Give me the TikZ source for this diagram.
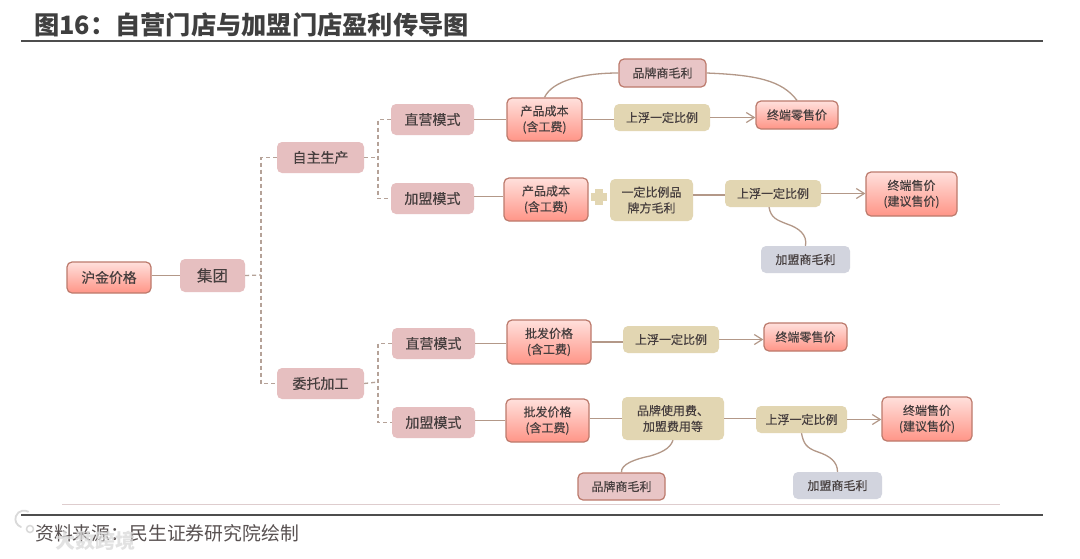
\documentclass[tikz,border=0pt]{standalone}
\usepackage{fontspec}
\setmainfont{Noto Sans CJK SC}[FakeBold=0.3]
\newfontfamily\plainfont{Noto Sans CJK SC}
\usetikzlibrary{arrows.meta}
\definecolor{txt}{HTML}{463E3E}
\definecolor{ttl}{HTML}{3F3F3F}
\definecolor{rulec}{HTML}{4D4D4D}
\definecolor{wire}{HTML}{B39888}
\definecolor{dashc}{HTML}{B5A298}
\definecolor{edgec}{HTML}{BC7A6C}
\definecolor{pinkfill}{HTML}{E6BFC0}
\definecolor{tanfill}{HTML}{E2D6B2}
\definecolor{greyfill}{HTML}{D2D4DE}
\definecolor{redlow}{HTML}{FF9587}
\definecolor{redtop}{HTML}{FFE0DC}
\tikzset{
  x=1pt,y=-1pt,
  boxbase/.style={rounded corners=5pt,inner sep=0pt,align=center,text=txt,font=\fontsize{12}{15.8}\selectfont,anchor=center},
  redbox/.style={boxbase,draw=edgec,line width=1.2pt,top color=redtop,bottom color=redlow},
  rosebox/.style={boxbase,fill=pinkfill},
  rosebig/.style={rosebox,font=\fontsize{14}{16}\selectfont},
  roseline/.style={boxbase,fill=pinkfill!90!white,draw=edgec,line width=1.2pt},
  tanbox/.style={boxbase,fill=tanfill},
  greybox/.style={boxbase,fill=greyfill},
  wireline/.style={draw=wire,line width=1.3pt},
  dashline/.style={draw=dashc,line width=1.3pt,dash pattern=on 4pt off 3pt},
  arrowline/.style={wireline,-{Straight Barb[length=8pt,width=10pt,line width=1.2pt]}},
  rulebar/.style={draw=rulec,line width=2.4pt},
}
\newcommand{\bx}[7]{\node[#2,minimum width=#5-#3,minimum height=#6-#4] (#1) at ({(#3+#5)/2},{(#4+#6)/2}) {#7};}
\begin{document}
\begin{tikzpicture}
\useasboundingbox (0,0) rectangle (1080,558);
\fill[white] (0,0) rectangle (1080,558);
% title and rules
\node[anchor=west,inner sep=0pt,text=ttl,font=\plainfont\fontsize{25.25}{30}\selectfont\bfseries] (title) at (34,25) {图16：自营门店与加盟门店盈利传导图};
\coordinate (r1a) at (21,41); \coordinate (r1b) at (1043,41);
\draw[rulebar] (r1a) -- (r1b);
\coordinate (r2a) at (62,504); \coordinate (r2b) at (1000,504);
\draw[draw=pinkfill!70!gray!60,line width=0.8pt] (r2a) -- (r2b);
\coordinate (r3a) at (21,515); \coordinate (r3b) at (1043,515);
\draw[rulebar] (r3a) -- (r3b);
\node[anchor=west,inner sep=0pt,text=txt!90!white,font=\plainfont\fontsize{18.85}{22}\selectfont] (src) at (35,533) {资料来源：民生证券研究院绘制};
% watermark
\node[anchor=west,inner sep=0pt,text=gray!28,font=\plainfont\fontsize{20}{22}\selectfont\bfseries,opacity=.8] (wm) at (55,541) {大数跨境};
\draw[gray!30,line width=1.8pt,line cap=round] (21,527) arc (110:300:8.5);
\draw[gray!30,line width=1.5pt] (30,529) circle (3.5);
% left part
\bx{hj}{redbox}{67}{262}{151}{293}{\fontsize{13.8}{16}\selectfont 沪金价格}
\bx{jt}{rosebig}{180}{259}{245}{292}{\fontsize{15.5}{16}\selectfont 集团}
\bx{zz}{rosebig}{277}{142}{364}{173}{自主生产}
\bx{wt}{rosebig}{277}{368}{364}{399}{委托加工}
\bx{z1}{rosebig}{391}{104}{474}{135}{直营模式}
\bx{j1}{rosebig}{391}{183}{474}{214}{加盟模式}
\bx{z2}{rosebig}{392}{328}{475}{359}{直营模式}
\bx{j2}{rosebig}{392}{407}{475}{438}{加盟模式}
% row 1
\bx{c1}{redbox}{507}{98}{582}{141}{产品成本\\(含工费)}
\bx{b1}{roseline}{619}{59}{706}{87}{品牌商毛利}
\bx{u1}{tanbox}{614}{104}{710}{131}{上浮一定比例}
\bx{e1}{redbox}{756}{101}{838}{129}{终端零售价}
% row 2
\bx{c2}{redbox}{504}{178}{588}{221}{产品成本\\(含工费)}
\fill[tanfill] (595,189) rectangle (603,205);
\fill[tanfill] (591,193) rectangle (607,201);
\bx{m2}{tanbox}{610}{179}{693}{221}{一定比例品\\牌方毛利}
\bx{u2}{tanbox}{725}{180}{821}{207}{上浮一定比例}
\bx{e2}{redbox}{866}{172}{957}{216}{终端售价\\(建议售价)}
\bx{g2}{greybox}{761}{246}{850}{273}{加盟商毛利}
% row 3
\bx{c3}{redbox}{507}{320}{591}{364}{批发价格\\(含工费)}
\bx{u3}{tanbox}{623}{326}{719}{353}{上浮一定比例}
\bx{e3}{redbox}{764}{323}{847}{351}{终端零售价}
% row 4
\bx{c4}{redbox}{506}{399}{589}{442}{批发价格\\(含工费)}
\bx{m4}{tanbox}{622}{397}{724}{440}{品牌使用费、\\加盟费用等}
\bx{u4}{tanbox}{756}{406}{847}{433}{上浮一定比例}
\bx{e4}{redbox}{882}{397}{972}{441}{终端售价\\(建议售价)}
\bx{b4}{roseline}{578}{473}{665}{500}{品牌商毛利}
\bx{g4}{greybox}{793}{472}{882}{499}{加盟商毛利}
% solid connectors
\draw[wireline] (hj.east |- jt.west) -- (jt.west);
\draw[wireline] (z1.east) -- (c1.west |- z1.east);
\draw[wireline] ([yshift=2pt]j1.east) -- ([yshift=2pt]c2.west |- j1.east);
\draw[wireline] (z2.east) -- (c3.west |- z2.east);
\draw[wireline] ([yshift=2pt]j2.east) -- ([yshift=2pt]c4.west |- j2.east);
\draw[wireline] (c1.east) -- (u1.west |- c1.east);
\draw[arrowline] (u1.east) -- (e1.west |- u1.east);
\draw[wireline] ([yshift=-1.5pt]m2.east |- u2.west) -- ([yshift=-1.5pt]u2.west);
\draw[arrowline] (u2.east) -- (e2.west |- u2.east);
\draw[wireline] (c3.east) -- (u3.west |- c3.east);
\draw[arrowline] (u3.east) -- (e3.west |- u3.east);
\draw[wireline] (c4.east |- m4.west) -- (m4.west);
\draw[wireline] (m4.east) -- (u4.west |- m4.east);
\draw[arrowline] (u4.east) -- (e4.west |- u4.east);
% curves
\draw[wireline] (c1.north) .. controls +(8,-17) and +(-35,0) .. (b1.west);
\draw[wireline] (b1.east) .. controls +(50,2) and +(-15,-20) .. (e1.north);
\draw[wireline] ([xshift=-4pt]u2.south) .. controls +(2,11) and +(-10,-4) .. (787,224) .. controls +(12,4) and +(2,-11) .. (g2.north);
\draw[wireline] (m4.south) .. controls +(-3,9) and +(10,-3) .. (650,456) .. controls +(-15,3) and +(-1,-8) .. (b4.north);
\draw[wireline] (u4.south) .. controls +(2,10) and +(-12,-4) .. (818,452) .. controls +(12,4) and +(0,-10) .. (g4.north);
% dashed tree
\coordinate (t0) at (261,275);
\draw[dashline] (jt.east) -- (t0);
\draw[dashline] (zz.west) -| (t0) |- (wt.west);
\coordinate (t1) at (378,157.5);
\coordinate (t2) at (378,382);
\draw[dashline] (zz.east) -- (t1);
\draw[dashline] (wt.east) -- (t2);
\draw[dashline] (z1.west) -| (t1) |- (j1.west);
\draw[dashline] (z2.west) -| (t2) |- (j2.west);
\end{tikzpicture}
\end{document}
